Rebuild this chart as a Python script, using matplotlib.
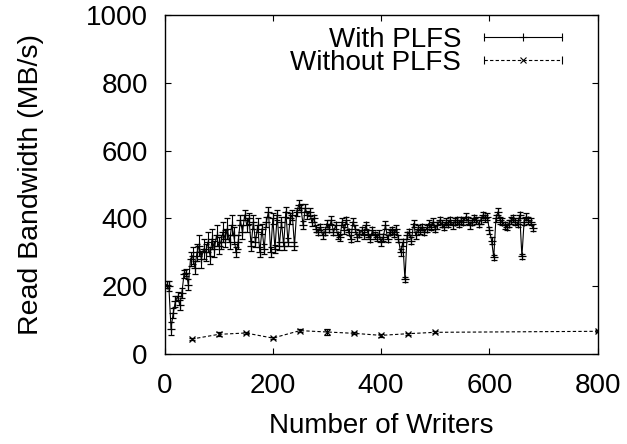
import matplotlib
matplotlib.use('Agg')
import matplotlib.pyplot as plt
import numpy as np
from matplotlib.lines import Line2D
from matplotlib.legend_handler import HandlerLine2D, HandlerTuple

plt.rcParams['font.family'] = ['Liberation Sans', 'DejaVu Sans']

# With PLFS: writers, read bandwidth (MB/s), error
with_x = list(range(4, 684, 4))
with_y = [205, 200, 75, 120, 155, 170, 145, 180, 235, 240,
          205, 280, 290, 255, 300, 320, 280, 310, 300, 330,
          290, 340, 310, 350, 320, 330, 360, 340, 370, 330,
          380, 350, 300, 330, 395, 360, 410, 380, 400, 320,
          390, 330, 380, 300, 370, 310, 390, 420, 300, 400,
          310, 410, 320, 390, 320, 420, 330, 400, 410, 320,
          420, 440, 430, 380, 430, 410, 420, 390, 400, 370,
          360, 375, 350, 360, 385, 370, 395, 360, 380, 350,
          345, 390, 365, 395, 360, 340, 390, 370, 345, 355,
          365, 350, 380, 355, 340, 365, 350, 345, 355, 330,
          345, 380, 340, 360, 365, 355, 370, 340, 300, 330,
          220, 350, 360, 335, 385, 350, 370, 365, 375, 360,
          370, 385, 375, 390, 370, 380, 395, 385, 375, 390,
          385, 395, 380, 390, 395, 385, 395, 390, 405, 395,
          380, 390, 400, 395, 385, 395, 410, 400, 405, 365,
          335, 285, 400, 420, 395, 390, 380, 375, 385, 395,
          400, 390, 385, 410, 288, 390, 405, 395, 390, 373]
with_err = [10, 15, 20, 15, 15, 12, 15, 15, 12, 10,
            15, 20, 25, 20, 25, 30, 25, 30, 25, 30,
            25, 30, 25, 30, 25, 20, 30, 25, 30, 20,
            30, 25, 15, 20, 15, 20, 15, 20, 15, 15,
            20, 15, 20, 15, 15, 15, 15, 15, 15, 15,
            12, 15, 12, 15, 12, 15, 12, 15, 15, 12,
            12, 15, 12, 12, 12, 12, 12, 12, 10, 10,
            10, 10, 10, 10, 10, 10, 12, 10, 10, 10,
            10, 10, 10, 10, 10, 10, 10, 10, 10, 10,
            10, 10, 10, 10, 10, 10, 10, 10, 10, 10,
            10, 12, 10, 10, 10, 10, 10, 10, 10, 10,
            8, 10, 10, 10, 10, 10, 10, 10, 10, 10,
            10, 10, 10, 10, 10, 10, 10, 10, 10, 10,
            10, 10, 10, 10, 10, 10, 10, 10, 10, 10,
            10, 10, 10, 10, 10, 10, 10, 10, 10, 10,
            10, 8, 10, 10, 10, 10, 10, 10, 10, 10,
            10, 10, 10, 10, 8, 10, 10, 10, 10, 10]

# Without PLFS
without_x = [50, 100, 150, 200, 250, 300, 350, 400, 450, 500, 800]
without_y = [44, 58, 62, 47, 69, 65, 61, 55, 60, 64, 67]
without_err = [3, 6, 4, 3, 4, 8, 3, 4, 3, 3, 3]

fig = plt.figure(figsize=(6.27, 4.44), dpi=100)
ax = fig.add_axes([0.2624, 0.2027, 0.6909, 0.7630])

ax.errorbar(with_x, with_y, yerr=with_err, color='black', lw=0.8,
            marker='+', ms=6, mew=0.9, capsize=2.5, elinewidth=0.8,
            capthick=0.8)
ax.errorbar(without_x, without_y, yerr=without_err, color='black', lw=0.8,
            ls=(0, (3, 2)), marker='x', ms=4.5, mew=0.9, capsize=2.5,
            elinewidth=0.8, capthick=0.8)

ax.set_xlim(0, 800)
ax.set_ylim(0, 1000)
ax.set_xticks([0, 200, 400, 600, 800])
ax.set_yticks([0, 200, 400, 600, 800, 1000])
ax.tick_params(direction='in', length=4, width=0.8, labelsize=20,
               top=True, right=True)
ax.tick_params(axis='y', pad=12)
ax.tick_params(axis='x', pad=14)
for s in ax.spines.values():
    s.set_linewidth(1.0)

ax.set_xlabel('Number of Writers', fontsize=20, labelpad=10)
ax.set_ylabel('Read Bandwidth (MB/s)', fontsize=20.5, labelpad=30)

# legend: text left of the key, right-aligned, gnuplot style
caps = Line2D([], [], color='black', lw=0.8, marker='|', ms=6, mew=0.8)
plus = Line2D([], [], color='black', lw=0, marker='+', ms=6, mew=0.8)
caps2 = Line2D([], [], color='black', lw=0.8, ls=(0, (3, 2)), marker='|',
               ms=6, mew=0.8)
cross = Line2D([], [], color='black', lw=0, marker='x', ms=4.5, mew=0.8)
hmap = {caps: HandlerLine2D(numpoints=2), caps2: HandlerLine2D(numpoints=2),
        plus: HandlerLine2D(numpoints=1), cross: HandlerLine2D(numpoints=1),
        tuple: HandlerTuple(ndivide=1, pad=0)}
leg_kw = dict(handler_map=hmap, loc='upper right', frameon=False,
              fontsize=20, markerfirst=False, handlelength=3.4,
              handletextpad=0.53, borderaxespad=0.0, borderpad=0.1)
leg1 = ax.legend([(caps, plus)], ['With PLFS'],
                 bbox_to_anchor=(0.943, 0.973), **leg_kw)
ax.add_artist(leg1)
ax.legend([(caps2, cross)], ['Without PLFS'],
          bbox_to_anchor=(0.943, 0.905), **leg_kw)

fig.savefig('out.png', dpi=100)
